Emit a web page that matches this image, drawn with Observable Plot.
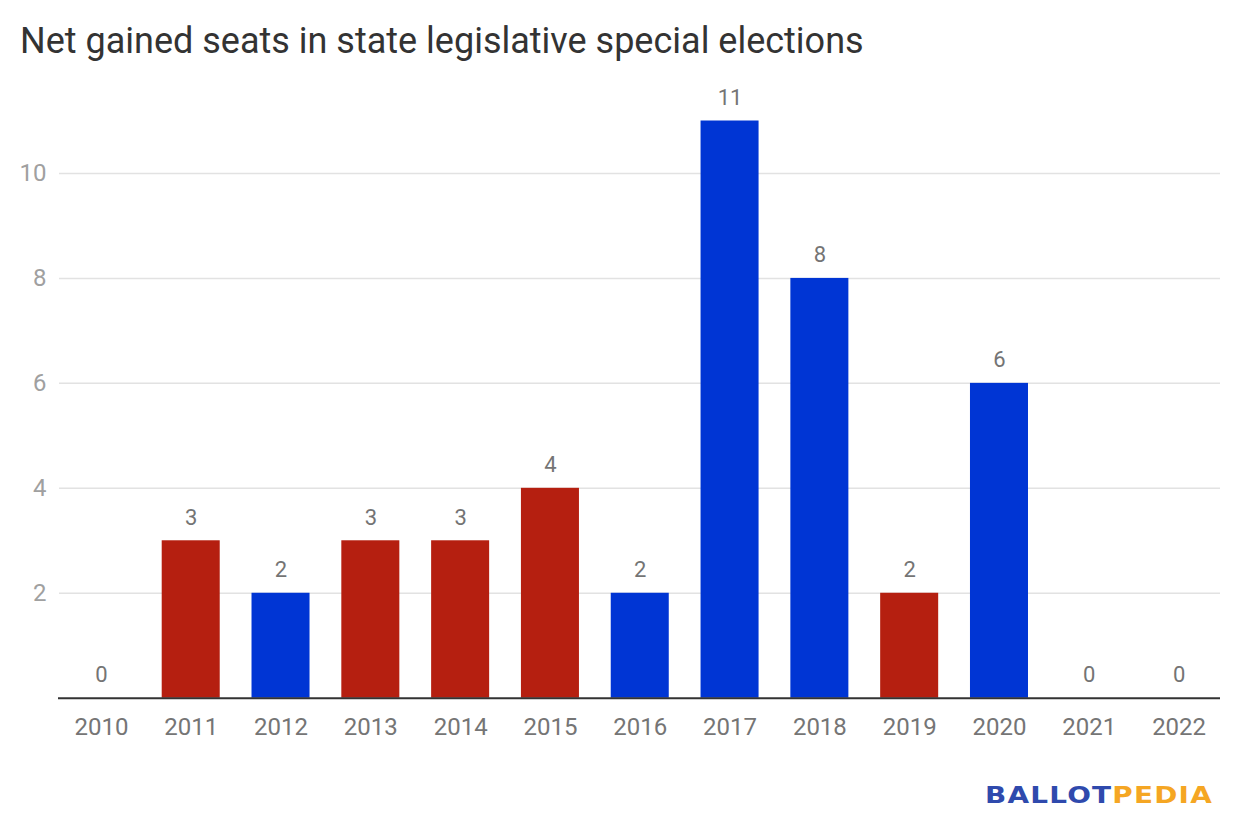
<!DOCTYPE html>
<html>
<head>
<meta charset="utf-8">
<script src="https://cdn.jsdelivr.net/npm/d3@7"></script>
<script src="https://cdn.jsdelivr.net/npm/@observablehq/plot@0.6"></script>
<style>
  html, body { margin: 0; padding: 0; background: #fff; }
  #wrap { position: relative; width: 1240px; height: 840px; overflow: hidden; font-family: Roboto, "Noto Sans", sans-serif; }
  #title { position: absolute; left: 20px; top: 23px; font-size: 36px; line-height: 36px; color: #333333; white-space: nowrap; }
  #chart { position: absolute; left: 0; top: 80px; }
  #logo { position: absolute; left: 0; top: 0; }
</style>
</head>
<body>
<div id="wrap">
  <div id="title">Net gained seats in state legislative special elections</div>
  <div id="chart"></div>
  <svg id="logo" width="1240" height="840">
    <text x="985" y="803" textLength="228" lengthAdjust="spacingAndGlyphs" letter-spacing="1" font-family="'DejaVu Sans', sans-serif" font-weight="bold" font-size="23"><tspan fill="#2f4aad">BALLOT</tspan><tspan fill="#f5a623">PEDIA</tspan></text>
  </svg>
</div>
<script>
const years = ["2010","2011","2012","2013","2014","2015","2016","2017","2018","2019","2020","2021","2022"];
const seats = [0, 3, 2, 3, 3, 4, 2, 11, 8, 2, 6, 0, 0];
const party = ["", "R", "D", "R", "R", "R", "D", "D", "D", "R", "D", "", ""];
const yTicks = [2, 4, 6, 8, 10];

const data = years.map((year, i) => ({year, seats: seats[i], party: party[i]}));

const chart = Plot.plot({
  width: 1240,
  height: 760,
  marginLeft: 56,
  marginRight: 16.5,
  marginTop: 40.5,
  marginBottom: 142.3,
  style: {fontFamily: "Roboto, 'Noto Sans', sans-serif", background: "transparent"},
  x: {type: "band", domain: years, paddingInner: 0.354, paddingOuter: 0.177, round: false, label: null},
  y: {domain: [0, 11], label: null},
  color: {domain: ["R", "D", ""], range: ["#b51f10", "#0035d4", "#ffffff"]},
  marks: [
    Plot.ruleY(yTicks, {stroke: "#e2e2e2", strokeWidth: 1.5, insetLeft: 3, insetRight: 3.5}),
    Plot.barY(data, {x: "year", y: "seats", fill: "party"}),
    Plot.ruleY([0], {stroke: "#333333", strokeWidth: 2, insetLeft: 2, insetRight: 3.5}),
    Plot.text(data, {x: "year", y: "seats", text: d => String(d.seats), lineAnchor: "bottom", dy: -16, fontSize: 22, fill: "#747474"}),
    Plot.axisY({ticks: yTicks, tickSize: 0, tickPadding: 10, fontSize: 24, fill: "#a0a0a0", label: null}),
    Plot.axisX({tickSize: 0, tickPadding: 20, fontSize: 24, fill: "#757575", label: null})
  ]
});
document.getElementById("chart").appendChild(chart);
</script>
</body>
</html>
